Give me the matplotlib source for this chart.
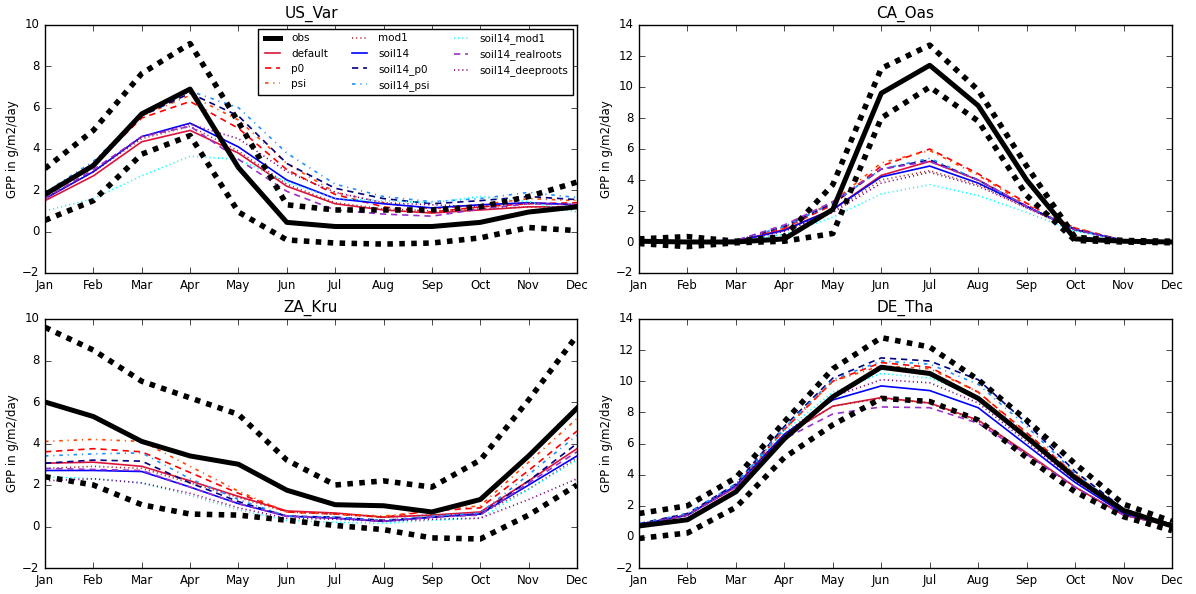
import matplotlib
matplotlib.use("Agg")
import matplotlib.pyplot as plt

plt.style.use("classic")
plt.rcParams["figure.facecolor"] = "white"
plt.rcParams["savefig.facecolor"] = "white"
plt.rcParams["font.family"] = "DejaVu Sans"

months = ["Jan", "Feb", "Mar", "Apr", "May", "Jun", "Jul", "Aug", "Sep", "Oct", "Nov", "Dec"]
sites = ["US_Var", "CA_Oas", "ZA_Kru", "DE_Tha"]

model_names = ["default", "p0", "psi", "mod1", "soil14", "soil14_p0", "soil14_psi",
               "soil14_mod1", "soil14_realroots", "soil14_deeproots"]
model_colors = ["crimson", "red", "orangered", "brown", "blue", "navy", "dodgerblue",
                "cyan", "darkorchid", "purple"]
model_styles = ["-", "--", "-.", ":", "-", "--", "-.", ":", "--", ":"]

# dash patterns (points, not scaled with line width)
dash_map = {
    "-": "-",
    "--": (0, (4.5, 3.5)),
    "-.": (0, (2.5, 3.5, 0.8, 3.5)),
    ":": (0, (0.8, 2.2)),
}

# observed GPP and its upper/lower bound
US_Var_obs = [1.8, 3.2, 5.7, 6.9, 3.1, 0.45, 0.25, 0.25, 0.25, 0.45, 0.95, 1.2]
US_Var_upper = [3.05, 4.9, 7.65, 9.1, 5.3, 1.3, 1.05, 1.05, 1.05, 1.2, 1.7, 2.4]
US_Var_lower = [0.55, 1.5, 3.75, 4.65, 0.95, -0.4, -0.55, -0.6, -0.55, -0.3, 0.2, 0.05]
US_Var_models = [
    [1.5, 2.7, 4.35, 4.9, 3.8, 2.2, 1.35, 1.05, 0.9, 1.05, 1.2, 1.2],
    [1.7, 3.2, 5.5, 6.3, 5.0, 3.0, 1.8, 1.2, 0.95, 1.2, 1.35, 1.4],
    [1.8, 3.3, 5.6, 6.6, 5.4, 3.3, 1.9, 1.4, 1.1, 1.3, 1.6, 1.5],
    [1.6, 2.9, 4.5, 5.1, 3.9, 2.3, 1.4, 1.1, 1.0, 1.1, 1.2, 1.2],
    [1.6, 2.9, 4.6, 5.25, 4.1, 2.5, 1.6, 1.35, 1.15, 1.3, 1.4, 1.3],
    [1.8, 3.3, 5.6, 6.7, 5.6, 3.3, 2.1, 1.6, 1.35, 1.5, 1.7, 1.55],
    [1.9, 3.4, 5.7, 6.8, 6.0, 3.8, 2.3, 1.7, 1.45, 1.6, 1.9, 1.65],
    [1.0, 1.6, 2.7, 3.65, 3.5, 2.4, 1.6, 1.5, 1.4, 1.7, 1.45, 0.95],
    [1.6, 3.0, 4.6, 5.1, 3.5, 1.95, 1.05, 0.85, 0.75, 1.1, 1.35, 1.3],
    [1.6, 2.9, 4.6, 5.2, 4.5, 2.9, 1.9, 1.4, 1.3, 1.2, 1.4, 1.3],
]

CA_Oas_obs = [0.05, 0.0, 0.0, 0.2, 2.1, 9.6, 11.4, 8.8, 4.0, 0.2, 0.05, 0.0]
CA_Oas_upper = [0.2, 0.35, 0.05, 0.35, 3.7, 11.2, 12.7, 9.8, 4.9, 0.3, 0.1, 0.05]
CA_Oas_lower = [-0.1, -0.3, -0.05, 0.05, 0.55, 8.0, 10.0, 7.8, 3.0, 0.1, 0.0, -0.05]
CA_Oas_models = [
    [0.0, 0.0, 0.05, 0.8, 2.1, 4.3, 5.2, 4.0, 2.3, 0.8, 0.1, 0.0],
    [0.0, 0.0, 0.05, 0.9, 2.4, 4.9, 6.0, 4.4, 2.5, 0.9, 0.1, 0.0],
    [0.0, 0.0, 0.05, 0.9, 2.6, 5.1, 5.9, 4.3, 2.4, 0.9, 0.1, 0.0],
    [0.0, 0.0, 0.05, 0.7, 2.0, 4.0, 4.6, 3.7, 2.2, 0.8, 0.1, 0.0],
    [0.0, 0.0, 0.05, 0.75, 2.1, 4.2, 4.9, 3.8, 2.3, 0.8, 0.1, 0.0],
    [0.0, 0.0, 0.1, 1.0, 2.5, 4.7, 5.3, 4.0, 2.3, 0.8, 0.1, 0.0],
    [0.0, 0.0, 0.1, 1.0, 2.5, 4.7, 5.4, 4.0, 2.3, 0.8, 0.1, 0.0],
    [0.0, 0.0, 0.05, 0.5, 1.6, 3.1, 3.7, 3.0, 1.9, 0.7, 0.1, 0.0],
    [0.0, 0.0, 0.1, 1.1, 2.6, 4.7, 5.2, 4.0, 2.3, 0.8, 0.1, 0.0],
    [0.0, 0.0, 0.05, 0.7, 1.9, 3.8, 4.5, 3.6, 2.2, 0.8, 0.1, 0.0],
]

ZA_Kru_obs = [6.0, 5.3, 4.1, 3.4, 3.0, 1.75, 1.05, 1.0, 0.7, 1.3, 3.4, 5.7]
ZA_Kru_upper = [9.6, 8.5, 7.0, 6.2, 5.4, 3.2, 2.0, 2.2, 1.9, 3.2, 6.1, 9.2]
ZA_Kru_lower = [2.4, 2.0, 1.05, 0.6, 0.55, 0.3, 0.05, -0.15, -0.55, -0.6, 0.55, 2.0]
ZA_Kru_models = [
    [3.05, 3.1, 2.9, 2.2, 1.45, 0.75, 0.65, 0.45, 0.55, 0.7, 2.2, 3.75],
    [3.6, 3.75, 3.6, 2.6, 1.6, 0.7, 0.6, 0.45, 0.75, 0.9, 2.7, 4.6],
    [4.1, 4.2, 4.1, 2.9, 1.7, 0.7, 0.6, 0.5, 0.75, 1.0, 3.1, 5.2],
    [2.8, 2.9, 2.8, 2.1, 1.4, 0.7, 0.6, 0.45, 0.55, 0.6, 1.8, 3.3],
    [2.7, 2.7, 2.65, 1.9, 1.1, 0.5, 0.4, 0.25, 0.45, 0.6, 2.0, 3.4],
    [3.05, 3.2, 3.15, 2.1, 1.2, 0.5, 0.45, 0.3, 0.45, 0.6, 2.2, 4.0],
    [3.4, 3.5, 3.55, 2.3, 1.3, 0.5, 0.45, 0.3, 0.5, 0.65, 2.5, 4.4],
    [2.4, 2.3, 2.1, 1.5, 0.8, 0.3, 0.2, 0.15, 0.3, 0.4, 1.8, 3.2],
    [2.8, 2.75, 2.7, 1.9, 1.1, 0.5, 0.4, 0.25, 0.45, 0.55, 2.1, 3.6],
    [2.2, 2.3, 2.1, 1.6, 0.9, 0.4, 0.35, 0.25, 0.35, 0.4, 1.3, 2.3],
]

DE_Tha_obs = [0.7, 1.1, 2.9, 6.3, 9.0, 10.9, 10.5, 8.9, 6.4, 3.8, 1.7, 0.7]
DE_Tha_upper = [1.5, 2.0, 3.8, 7.4, 10.8, 12.8, 12.2, 10.1, 7.5, 4.7, 2.1, 1.0]
DE_Tha_lower = [-0.1, 0.25, 1.9, 5.1, 7.2, 8.9, 8.7, 7.5, 5.1, 2.9, 1.3, 0.4]
DE_Tha_models = [
    [0.8, 1.4, 3.2, 6.5, 8.4, 8.95, 8.6, 7.5, 5.4, 3.2, 1.4, 0.7],
    [0.8, 1.4, 3.3, 6.9, 10.0, 11.2, 10.9, 9.3, 6.7, 4.0, 1.7, 0.8],
    [0.8, 1.4, 3.3, 6.9, 10.0, 11.0, 10.8, 9.3, 6.6, 4.0, 1.7, 0.8],
    [0.8, 1.4, 3.2, 6.5, 8.4, 8.9, 8.6, 7.4, 5.3, 3.2, 1.4, 0.7],
    [0.8, 1.4, 3.3, 6.6, 8.8, 9.7, 9.4, 8.3, 5.9, 3.5, 1.5, 0.7],
    [0.85, 1.5, 3.4, 7.1, 10.2, 11.5, 11.3, 10.1, 7.3, 4.2, 1.8, 0.8],
    [0.85, 1.5, 3.4, 7.0, 10.1, 11.3, 11.1, 9.8, 7.1, 4.1, 1.7, 0.8],
    [0.8, 1.4, 3.3, 6.8, 9.3, 10.5, 10.2, 9.0, 6.4, 3.7, 1.6, 0.7],
    [0.75, 1.4, 3.2, 6.3, 7.9, 8.35, 8.3, 7.3, 5.3, 3.2, 1.4, 0.7],
    [0.8, 1.4, 3.3, 6.6, 9.0, 10.1, 9.9, 8.6, 6.1, 3.6, 1.6, 0.7],
]

site_data = {
    "US_Var": (US_Var_obs, US_Var_upper, US_Var_lower, US_Var_models),
    "CA_Oas": (CA_Oas_obs, CA_Oas_upper, CA_Oas_lower, CA_Oas_models),
    "ZA_Kru": (ZA_Kru_obs, ZA_Kru_upper, ZA_Kru_lower, ZA_Kru_models),
    "DE_Tha": (DE_Tha_obs, DE_Tha_upper, DE_Tha_lower, DE_Tha_models),
}
ylims = {"US_Var": (-2, 10), "CA_Oas": (-2, 14), "ZA_Kru": (-2, 10), "DE_Tha": (-2, 14)}

W, H = 1196, 594
fig = plt.figure(figsize=(W / 100, H / 100), dpi=100)
# axes boxes in pixels: left, top, right, bottom
boxes = [(45, 25, 577, 273), (639, 25, 1172, 273), (45, 319, 577, 568), (639, 319, 1172, 568)]

x = list(range(12))
for site, (l, t, r, b) in zip(sites, boxes):
    ax = fig.add_axes([l / W, 1 - b / H, (r - l) / W, (b - t) / H])
    obs, upper, lower, models = site_data[site]
    ax.plot(x, obs, color="black", lw=3.6, label="obs", zorder=4)
    for bound in (upper, lower):
        ax.plot(x, bound, color="black", lw=4, linestyle=(0, (4.0, 4.6)), zorder=4)
    for name, vals, c, ls in zip(model_names, models, model_colors, model_styles):
        ax.plot(x, vals, color=c, linestyle=dash_map[ls], lw=1.2, label=name)
    ax.set_xlim(0, 11)
    ax.set_ylim(*ylims[site])
    ax.set_xticks(x)
    ax.set_xticklabels(months)
    ax.tick_params(labelsize=8.5)
    ax.set_title(site, fontsize=11)
    ax.set_ylabel("GPP in g/m2/day", fontsize=8.5, labelpad=2)
    if site == "US_Var":
        ax.legend(loc="upper right", ncol=3, fontsize=7.5, borderaxespad=0.4)

fig.savefig("out.png", dpi=100)
